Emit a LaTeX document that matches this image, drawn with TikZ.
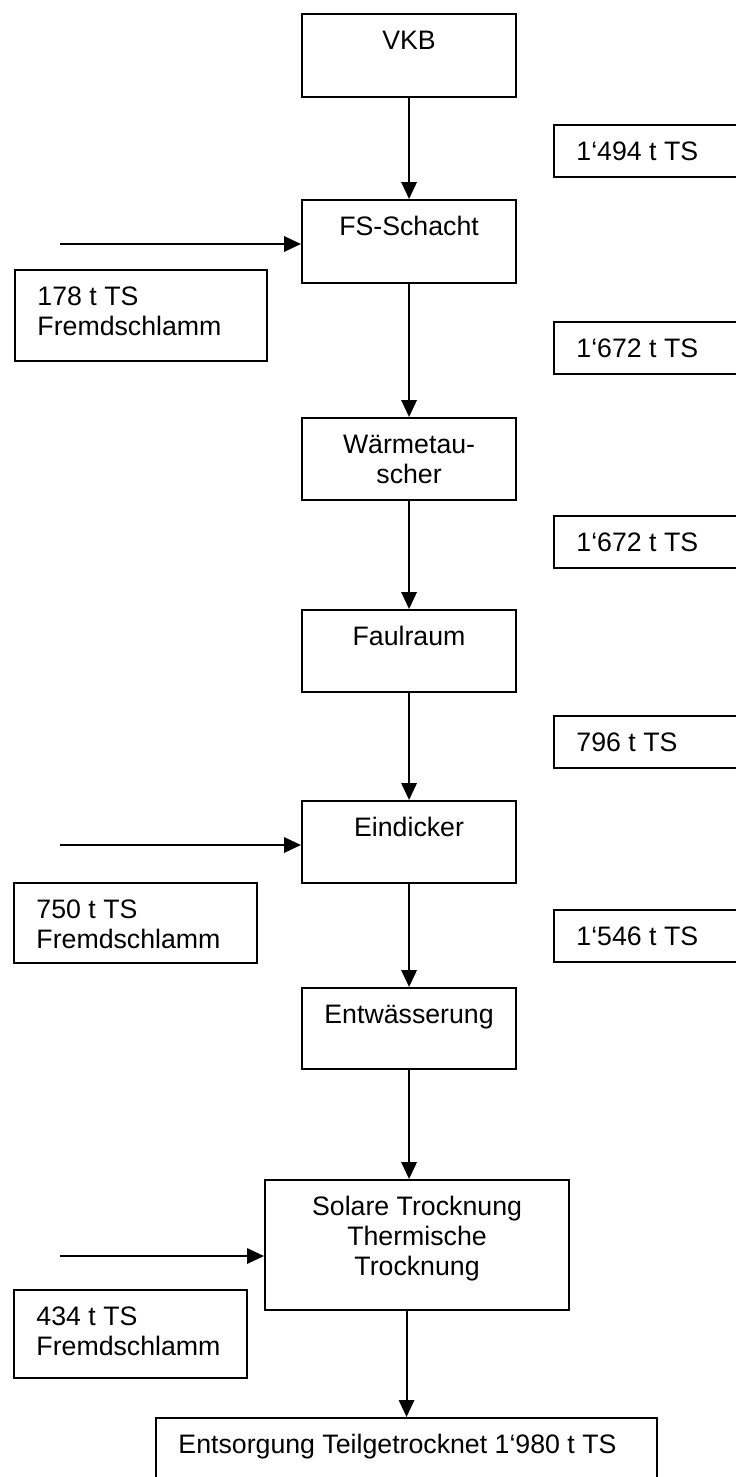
\documentclass[tikz,border=0pt]{standalone}
\usepackage{fontspec}
\setmainfont{Liberation Sans}
\usetikzlibrary{arrows.meta}
\usetikzlibrary{positioning}

% text of a box: width, height, alignment, lines
\newcommand{\boxtext}[4]{\parbox[t][#2][t]{#1}{#3\rule{0pt}{0.88cm}#4}}
\newcommand{\midtext}{\centering}
\newcommand{\sidetext}{\raggedright\leftskip=0.56cm}

\tikzset{
  stage/.style={draw,line width=1.5pt,inner sep=0pt,anchor=north west},
  flow/.style={line width=1.5pt,-{Triangle[length=0.42cm,width=0.38cm]}}
}

\begin{document}
\begin{tikzpicture}[font=\fontsize{19pt}{21.5pt}\selectfont]
    \useasboundingbox (0,0) rectangle (18.4,-36.925);
    \clip (0,0) rectangle (18.4,-36.925);
    % Hauptstrang
    \node[stage] (vkb) at (7.525,-0.325)
        {\boxtext{5.35cm}{2.075cm}{\midtext}{VKB}};
    \node[stage] (fss) at (7.525,-4.975)
        {\boxtext{5.35cm}{2.075cm}{\midtext}{FS-Schacht}};
    \node[stage] (wt) at (7.525,-10.425)
        {\boxtext{5.35cm}{2.05cm}{\midtext}{Wärmetau-\\scher}};
    \node[stage] (faul) at (7.525,-15.225)
        {\boxtext{5.35cm}{2.05cm}{\midtext}{Faulraum}};
    \node[stage] (eind) at (7.525,-20.0)
        {\boxtext{5.35cm}{2.05cm}{\midtext}{Eindicker}};
    \node[stage] (entw) at (7.525,-24.675)
        {\boxtext{5.35cm}{2.025cm}{\midtext}{Entwässerung}};
    \node[stage] (sol) at (6.6,-29.475)
        {\boxtext{7.6cm}{3.25cm}{\midtext}{Solare Trocknung\\Thermische\\Trocknung}};
    \node[stage] (ents) at (3.875,-35.425)
        {\boxtext{12.525cm}{2.1cm}{\sidetext}{Entsorgung Teilgetrocknet 1‘980 t TS}};
    % Mengen rechts
    \node[stage] (m1) at (13.825,-3.1)
        {\boxtext{5.175cm}{1.3cm}{\sidetext}{1‘494 t TS}};
    \node[stage] (m2) at (13.825,-8.025)
        {\boxtext{5.175cm}{1.3cm}{\sidetext}{1‘672 t TS}};
    \node[stage] (m3) at (13.825,-12.875)
        {\boxtext{5.175cm}{1.3cm}{\sidetext}{1‘672 t TS}};
    \node[stage] (m4) at (13.825,-17.875)
        {\boxtext{5.175cm}{1.3cm}{\sidetext}{796 t TS}};
    \node[stage] (m5) at (13.825,-22.725)
        {\boxtext{5.175cm}{1.3cm}{\sidetext}{1‘546 t TS}};
    % Fremdschlamm links
    \node[stage] (fs1) at (0.35,-6.725)
        {\boxtext{6.3cm}{2.275cm}{\sidetext}{178 t TS\\Fremdschlamm}};
    \node[stage] (fs2) at (0.325,-22.05)
        {\boxtext{6.075cm}{2.0cm}{\sidetext}{750 t TS\\Fremdschlamm}};
    \node[stage] (fs3) at (0.325,-32.225)
        {\boxtext{5.825cm}{2.2cm}{\sidetext}{434 t TS\\Fremdschlamm}};
    \coordinate (in1) at (1.5,-6.1);
    \coordinate (in2) at (1.5,-21.125);
    \coordinate (in3) at (1.5,-31.4);
    % Pfeile
    \draw[flow] (vkb) -- (fss);
    \draw[flow] (fss) -- (wt);
    \draw[flow] (wt) -- (faul);
    \draw[flow] (faul) -- (eind);
    \draw[flow] (eind) -- (entw);
    \draw[flow] (entw.south) -- (entw.south |- sol.north);
    \draw[flow] (ents.north |- sol.south) -- (ents.north);
    \draw[flow] (in1) -- (in1 -| fss.west);
    \draw[flow] (in2) -- (in2 -| eind.west);
    \draw[flow] (in3) -- (in3 -| sol.west);
\end{tikzpicture}
\end{document}
